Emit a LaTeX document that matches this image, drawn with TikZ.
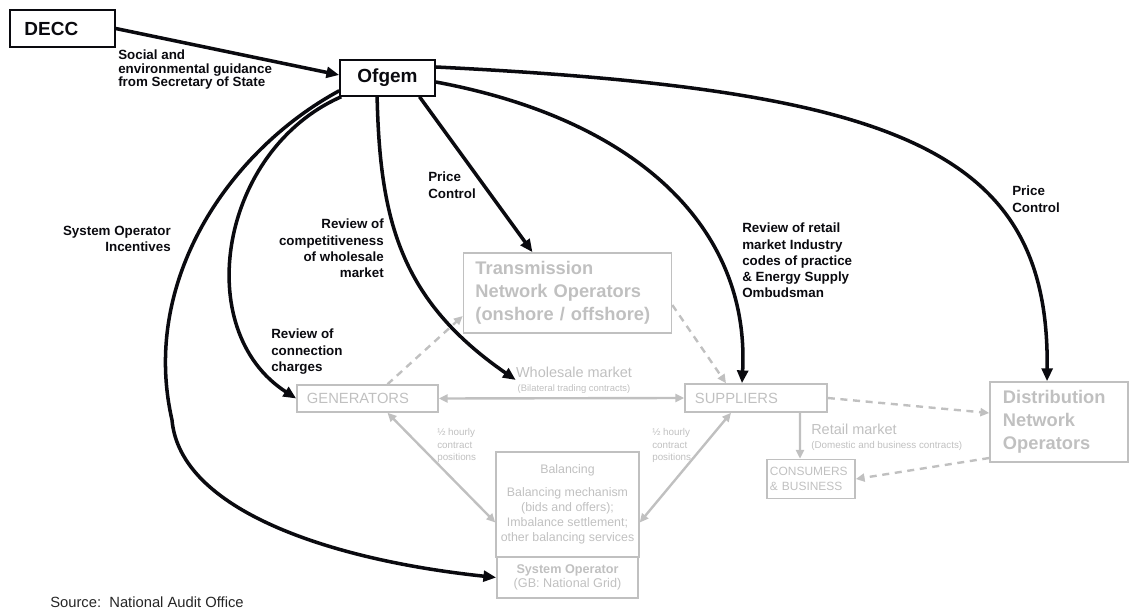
\documentclass[tikz,border=0pt]{standalone}
\usepackage{fontspec}
\setmainfont{Liberation Sans}
\usepackage{tikz}
\usetikzlibrary{arrows.meta}
\definecolor{lightgrey}{RGB}{192,192,192}
\definecolor{inkblack}{RGB}{10,10,15}

\begin{document}
\begin{tikzpicture}[x=0.025cm, y=-0.025cm]
        % Define styles
        \tikzset{
            body/.style={rectangle, draw=inkblack, line width=1.1pt, text=inkblack, font=\fontsize{13.5}{15}\selectfont\bfseries},
            market/.style={rectangle, draw=lightgrey, line width=1.1pt, text=lightgrey},
            bigmarket/.style={market, align=left, font=\fontsize{13}{16.4}\selectfont\bfseries},
            role/.style={market, align=left, inner xsep=0.25cm, font=\fontsize{10.5}{12}\selectfont},
            remark/.style={inner sep=0pt, align=left, text=inkblack, font=\fontsize{9.5}{11.5}\selectfont\bfseries},
            greytext/.style={inner sep=0pt, text=lightgrey},
            arrow/.style={-{Triangle[length=0.32cm, width=0.27cm]}, line width=2.5pt, draw=inkblack},
            greyarrow/.style={-{Triangle[length=0.22cm, width=0.2cm]}, line width=1.7pt, draw=lightgrey},
            greyboth/.style={{Triangle[length=0.22cm, width=0.2cm]}-{Triangle[length=0.22cm, width=0.2cm]}, line width=1.7pt, draw=lightgrey},
            dasharrow/.style={greyarrow, dash pattern=on 5pt off 4pt}
        }
        \useasboundingbox (0,0) rectangle (1133,616);

        % Nodes
        \node[body, minimum height=0.925cm, text width=1.9cm, inner xsep=0.36cm, align=left] (decc) at (62.5,28.5) {DECC};
        \node[body, minimum width=2.375cm, minimum height=0.9cm] (ofgem) at (387.5,78) {Ofgem};

        \node[bigmarket, text width=4.6cm, inner xsep=0.3cm, minimum height=2cm] (tno) at (567.5,293) {Transmission\\Network Operators\\(onshore / offshore)};
        \node[bigmarket, text width=2.8cm, inner xsep=0.325cm, minimum height=2cm] (dno) at (1059,422) {Distribution\\Network\\Operators};
        \node[role, text width=3.025cm, minimum height=0.675cm] (gen) at (367.5,398.5) {GENERATORS};
        \node[role, text width=3.05cm, minimum height=0.7cm] (sup) at (756,398) {SUPPLIERS};
        \node[market, align=center, minimum width=3.525cm, minimum height=2.625cm, font=\fontsize{8.8}{10.8}\selectfont] (bal) at (567.5,504.5) {Balancing\\[5pt]Balancing mechanism\\(bids and offers);\\Imbalance settlement;\\other balancing services};
        \node[market, align=center, minimum width=3.525cm, minimum height=1.025cm, font=\fontsize{9}{10.5}\selectfont] (so) at (567.5,577.5) {\textbf{System Operator}\\(GB: National Grid)};
        \node[market, align=left, text width=2.05cm, inner xsep=0.075cm, minimum height=0.975cm, font=\fontsize{8.5}{11}\selectfont] (cons) at (811,479) {CONSUMERS\\\& BUSINESS};

        % Labels
        \node[remark, anchor=north west, font=\fontsize{9.5}{9.5}\selectfont\bfseries] (social) at (118,50) {Social and\\environmental guidance\\from Secretary of State};
        \node[remark, anchor=north west] (pricel) at (428,172) {Price\\Control};
        \node[remark, anchor=north east, align=right] (sysinc) at (171,226) {System Operator\\Incentives};
        \node[remark, anchor=north east, align=right] (revcomp) at (384,219) {Review of\\competitiveness\\of wholesale\\market};
        \node[remark, anchor=north west] (revconn) at (271,329) {Review of\\connection\\charges};
        \node[remark, anchor=north west] (revretail) at (742,223) {Review of retail\\market Industry\\codes of practice\\\& Energy Supply\\Ombudsman};
        \node[remark, anchor=north west] (pricer) at (1012,186) {Price\\Control};

        \node[greytext, align=center, font=\fontsize{10.3}{12}\selectfont] (wholesale) at (574,380) {Wholesale market\\[-2pt]{\fontsize{6.7}{8}\selectfont(Bilateral trading contracts)}};
        \node[greytext, anchor=north west, align=left, font=\fontsize{10.3}{12}\selectfont] (retail) at (811,424) {Retail market\\[-2pt]{\fontsize{7}{8}\selectfont(Domestic and business contracts)}};
        \node[greytext, anchor=north west, align=left, font=\fontsize{7}{9}\selectfont] (halfl) at (437,428) {½ hourly\\contract\\positions};
        \node[greytext, anchor=north west, align=left, font=\fontsize{7}{9}\selectfont] (halfr) at (652,428) {½ hourly\\contract\\positions};

        \node[inner sep=0pt, anchor=north west, text=black!85, font=\fontsize{10.5}{12}\selectfont] (source) at (50,597) {Source:\ \ National Audit Office};

        % Arrows
        \draw[arrow] (decc.east) -- ([yshift=0.075cm]ofgem.west);
        \draw[arrow] ([yshift=0.275cm]ofgem.east) .. controls (900,90) and (1050,150) .. ([xshift=-0.3cm]dno.north);
        \draw[arrow] ([yshift=-0.1cm]ofgem.east) .. controls (640,120) and (750,230) .. ([xshift=-0.35cm]sup.north);
        \draw[arrow] ([xshift=-0.26cm]ofgem.south) .. controls (380,220) and (400,300) .. (wholesale.west);
        \draw[arrow] ([xshift=0.8cm]ofgem.south) -- ([xshift=-0.875cm]tno.north);
        \draw[arrow] ([xshift=0.05cm]ofgem.south west) .. controls (220,150) and (190,330) .. (gen.west);
        \draw[arrow] ([yshift=0.15cm]ofgem.south west) .. controls (230,150) and (140,280) .. (172,420) .. controls (180,510) and (330,560) .. (so.west);

        \draw[greyboth] (gen.east) -- (sup.west);
        \draw[greyboth] ([xshift=0.5cm]gen.south) -- ([yshift=-0.45cm]bal.west);
        \draw[greyboth] ([xshift=-0.625cm]sup.south) -- ([yshift=-0.45cm]bal.east);
        \draw[dasharrow] ([xshift=0.5cm]gen.north) -- ([yshift=-0.575cm]tno.west);
        \draw[dasharrow] ([yshift=-0.3cm]tno.east) -- ([xshift=-0.75cm]sup.north);
        \draw[dasharrow] (sup.east) -- ([yshift=0.225cm]dno.west);
        \draw[dasharrow] ([yshift=-0.9cm]dno.west) -- (cons.east);
        \draw[greyarrow] ([xshift=1.1cm]sup.south) -- ([xshift=-0.275cm]cons.north);
\end{tikzpicture}
\end{document}
